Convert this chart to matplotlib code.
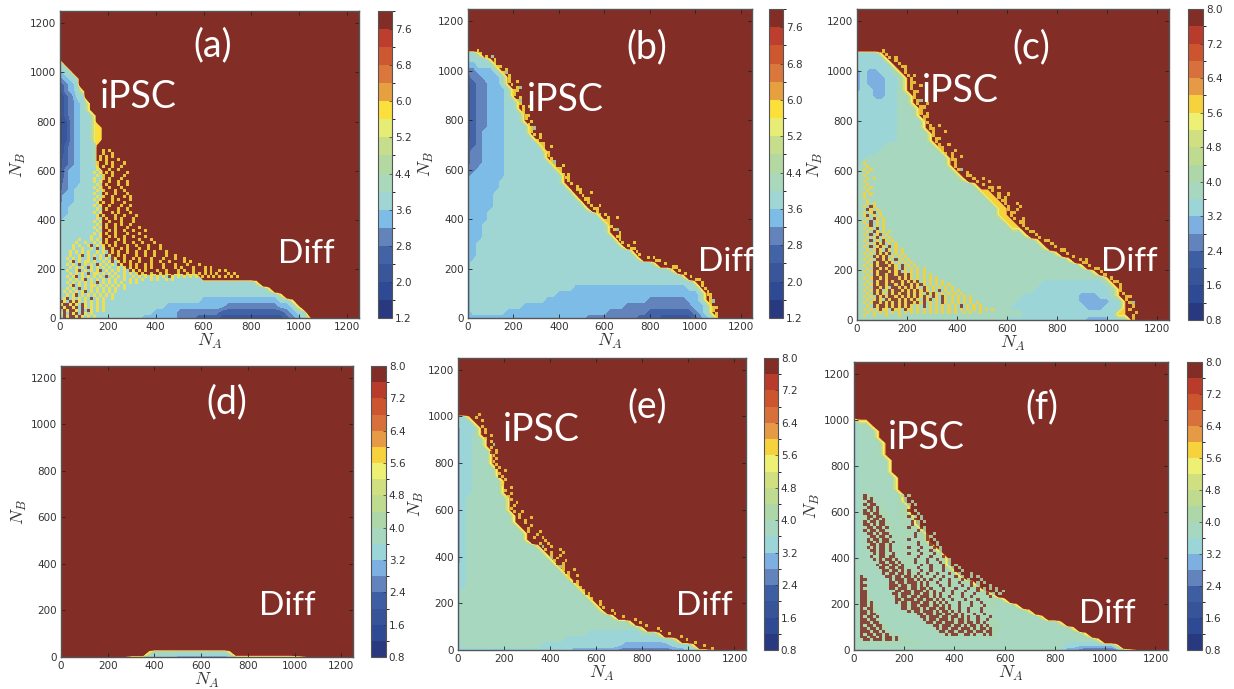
import numpy as np
import matplotlib
matplotlib.use('Agg')
import matplotlib.pyplot as plt
from matplotlib.colors import ListedColormap, BoundaryNorm
from matplotlib.cm import ScalarMappable

# one char per grid node, N_A = 0, 25, 50, ... left to right, last row is N_B = 0
# rows go up in steps of 25, anything not written is the dark red plateau
band_value = {'1': 1.4, '2': 1.8, '3': 2.2, '4': 2.6, '5': 3.0, '6': 3.4, '7': 3.8,
              '8': 4.2, '9': 4.6, 'a': 5.0, 'b': 5.4, 'c': 5.8, 'x': 16.0}

panel_a = [
    "8", "78", "678", "5678", "3567", "3567c", "24577", "24567c", "24567c", "245677c",
    "235677c", "235677cc", "235677cc", "235677cc", "2456778", "2456778", "3456778",
    "3456778", "35667778", "35667778",
    "45667778", "45677778", "56677778", "56677778", "66777778",
    "66777777", "67777777", "77777777", "77777777", "77777777",
    "77777777", "777777777", "7777777777", "77777777777", "7777777777777",
    "7" * 24,
    "7" * 33 + "c",
    "7" * 35 + "c",
    "7" * 37 + "c",
    "7" * 24 + "6" * 13 + "77c",
    "7" * 18 + "6" * 10 + "5" * 9 + "667c",
    "7" * 16 + "6666" + "5" * 7 + "4" * 11 + "5677",
    "7" * 14 + "666666" + "555" + "4444" + "3" * 11 + "4567c",
]

panel_b = [
    "77c", "7777c", "66777c", "556667c", "4556667c", "3455667c", "34556667c", "34556667c",
    "345566677c", "345566677c", "3455666777c", "3455666777c", "34556667777c", "34566667777c",
    "345666677777c", "4456666777777c", "45566667777777c", "45566667777777c",
    "455666677777777c", "5566666" + "7" * 9 + "c", "5666666" + "7" * 10 + "c",
    "666666" + "7" * 11 + "c", "666666" + "7" * 12 + "c", "66666" + "7" * 14 + "c",
    "66666" + "7" * 15 + "c", "66666" + "7" * 16 + "c", "6666" + "7" * 19 + "c",
    "6666" + "7" * 20 + "c", "666" + "7" * 22 + "c", "666" + "7" * 22 + "c",
    "666" + "7" * 23 + "c", "66" + "7" * 25 + "c", "66" + "7" * 27 + "c", "66" + "7" * 28 + "c",
    "6" + "7" * 32 + "c", "6" + "7" * 35 + "c", "6" + "7" * 37 + "c", "6" + "7" * 39 + "c",
    "6" + "7" * 18 + "6" * 20 + "77c",
    "6" + "7" * 15 + "6" * 25 + "7c",
    "6" + "7" * 13 + "6" * 18 + "5" * 7 + "667c",
    "6" + "7" * 9 + "6" * 18 + "5" * 12 + "667c",
    "6" + "7" * 6 + "6" * 18 + "5" * 7 + "4" * 8 + "567c",
    "6" * 21 + "5" * 9 + "4" * 4 + "3" * 6 + "4567c",
]

panel_c = [
    "6666c", "66666c", "666666c", "5655667c", "56555667c", "56555667c", "56655667c",
    "666556677c", "666666677c", "6666666777c", "6666666777c", "66666667777c", "66666667777c",
    "6666666" + "77777c", "6666666" + "77777c", "66666" + "7" * 8 + "c", "6666" + "7" * 10 + "c",
    "667" + "7" * 12 + "c", "67" + "7" * 13 + "c", "7" * 16 + "c", "7" * 17 + "c",
    "7" * 19 + "c",
    "7" * 20 + "cc",
    "7" * 21 + "cc",
    "7" * 22 + "cc",
    "7" * 23 + "cc",
    "7" * 23 + "cc",
    "7" * 24 + "cc",
    "7" * 25 + "cc",
    "7" * 27 + "c",
    "7" * 29 + "c",
    "7" * 30 + "c",
    "7" * 32 + "c",
    "7" * 34 + "c",
    "7" * 36 + "c",
    "7" * 38 + "c",
    "7" * 40 + "c",
    "7" * 30 + "6" * 10 + "7c",
    "7" * 29 + "6" * 12 + "7c",
    "7" * 27 + "6" * 9 + "555667c",
    "7" * 26 + "6" * 10 + "55555" + "66c",
    "7" * 25 + "6" * 12 + "555" + "666c",
    "7" * 27 + "6" * 15 + "cc",
    "7" * 24 + "6" * 13 + "5555" + "667c",
]

panel_d = [
    "x" * 15 + "c" + "7" * 13 + "c",
    "x" * 11 + "c777" + "66666" + "5" * 20 + "67c",
]

panel_e = [
    "66c", "666c", "5666c", "5667c", "56677c", "56677c", "566777c", "566777c", "566777c",
    "5667777c", "5667777c", "56677777c", "56677777c", "56677777c", "567777777c", "567777777c",
    "567777777c", "5677777777c", "5677777777c", "56777777777c", "567777777777c",
    "567777777777c",
    "56" + "7" * 12 + "c",
    "56" + "7" * 13 + "c",
    "56" + "7" * 14 + "c",
    "56" + "7" * 15 + "c",
    "66" + "7" * 16 + "c",
    "66" + "7" * 17 + "c",
    "66" + "7" * 18 + "c",
    "66" + "7" * 19 + "c",
    "67" + "7" * 20 + "c",
    "67" + "7" * 21 + "c",
    "67" + "7" * 22 + "c",
    "67" + "7" * 23 + "c",
    "6" + "7" * 26 + "c",
    "6" + "7" * 29 + "c",
    "6" + "7" * 31 + "c",
    "6" + "7" * 22 + "6" * 9 + "777c",
    "6" + "7" * 18 + "6" * 17 + "77c",
    "6" + "7" * 14 + "6" * 14 + "5" * 8 + "6666c",
    "6" * 20 + "5" * 8 + "4" * 10 + "55" + "66" + "77c",
]

panel_f = [
    "6cc", "677c", "6777c", "6777c", "67777c", "67777c", "67777c", "677777c", "677777c",
    "677777c", "6777777c", "6777777c", "6777777c", "67777777c", "67777777c", "677777777c",
    "677777777c", "6777777777c", "6777777777c", "67777777777c", "677777777777c",
    "677777777777c", "6777777777777c", "67777777777777c", "677777777777777c",
    "777777777777777c", "7777777777777777c", "77777777777777777c",
    "7" * 19 + "c", "7" * 20 + "c", "7" * 22 + "c", "7" * 24 + "c", "7" * 26 + "c",
    "7" * 28 + "c", "7" * 30 + "c", "7" * 33 + "c", "7" * 35 + "c", "7" * 37 + "c",
    "7" * 39 + "c",
    "7" * 34 + "6" * 8 + "c",
    "7" * 33 + "6" + "55" + "4" + "3" * 5 + "457c",
]

# speckle read from the noisy zones, one char per 12.5 x 12.5 cell, '.' leaves the
# contour underneath visible, last row is N_B = 0, first char is N_A = 0
speck_a = [
    "..............c.c.x", "..............cx.c", ".............c.cxc.x", ".............c.c.x.c",
    "............c..cxc.x.c", "............c.c.xcx.cx", "............c..xc.xc.x",
    "...........c.c.cxcx.x.c", "............c.cx.cx.xc", "...........c..cxcx.xc.x",
    "...........c.c.xcx.cx.c", "............c.xcxx.c.xc", "...........c.c.xcx.xc.x",
    "............c.cxx.cx.c.x", "...........c..xcxxc.x.cx", "............c.cxxcx.xc.c",
    "...........c.cx.xcxc.x.c", "............cxcxxc.x.c.x", "...........c.cxxcxx.cx.c",
    "............c.xcx.xcx.c.x", "...........c.cxx.cxc.x.cx", "............cxcx.xc.xc.x.c",
    "............c.xcxxc.cx.xc.x", "...........c.cxxcx.xc.x.c.x", "............c.xcx.cxc.xc.x",
    "...........c.cxcxxc.x.c.x.cx", "............c.xxcxc.xcx.c.x.c",
    "...........c.cxc.xcxx.cx.xc.x", "..........c..cxxcxc.xcx.c.x.c",
    "......c...c.c.xcx.xcxc.x.xc.x.c", ".....c..c..c.cxcxxc.xc.xcx.c.x.c",
    "....c.c..cx.c.cxcxcxx.cx.cx.xc.x.c", "....c..c..c.x.cxxcx.cxc.x.cx.c.x.c.x",
    "...c.c.c.c..c.c.xcxcxxc.xcx.c.xc.x.c.x", "...c..cx.c.c.c.xcx.cxcx.xcx.cx.c.x.cx.c",
    "..c.c.c..c.x.c.c.xcxxc.xcxc.x.cx.xc.x.cx.c", "...cx.c.cc.c..c.cx.cxcxc.xcxx.c.xcx.c.x.xc.c",
    "..c.c.x.c.c.xc.c.c.xc.xcxcx.cxc.x.cx.xc.x.c.x.c",
    "...c.c.c.xc.c.c.c..c.cxcxc.xcxcx.xc.x.cxc.x.c.x.c.c",
    "..c..cx.c.c.cx.c.c.c.c.xcxcxcxx.c.xcx.xc.cx.c.x.c.c.xc.c",
    "...c.c.c.x.cc.c.c.c..c.c.cxc.xc.xcxc.x.c.xc.c.c.cxc.c.x.c.cx",
    "..c.cx.c.c.c.c.x.c.c.c..c.c.c.c.c.c.xc.c.c.c.c.c.c.c.c.c.c.c",
    "...c.c.cx.c.c.c.c.c..c.c.c.c..c.c..c.c", "..c.c.c.c.c.x.c.c.c.c..c.c",
    "...cx.c.c.cc.c.c.c.c.c", "..c.c.x.c.c.c.c.c.c..c", ".c.c.c.cx.c.c.c.c.c",
    "..c.cx.c.c.c.c.c.c", ".cx.c.c.c.x.c.c..c", "xc.xcxc.c.c.c.c", "cxxcxc.xc.c.c.c",
    "xcxxcx.xc.c.c.c", ".xcxxc.x.xc.c.c", "cx.xcx.xc.c", ".xcxxcxc.c.c",
]

speck_c = [
    "..c", "...c", "..c.c", "...c", "..c", "...c.c", "..c", "...c", "..c.c", "...c", "..c.c",
    "..c", "...c", "...c.c", "..c.xc", "...xc.c", "..c.cx.c", "..cx.c.c", "...c.xc.c",
    "..c.x.c.c", "...cx.c.c", "..c.c.x.c", "...c.xc.c.c", "..c.x.cx.c", "...c.cx.c.c",
    "..c.x.c.xc.c", "...c.cxcx.c.c", "..c.x.cxc.x.c", "...c.cxc.xc.c.c", "..c.c.xcxcx.c.c",
    "...c.xcxcx.c.c.c", "..c.c.xxcxc.x.c.c", "...c.xcxxcxc.c.c.c", "..c.cxcxxxcxc.x.c.c",
    "...c.xxcxcxxc.xc.c.c.c", "..c.cxcxxxcxcx.c.c.c.c", "...c.xcxxcxxcxxcxc.c.c.c",
    "..c.cxxcxcxxxcxcxc.c.c.c.c", "...c.xcxxcxcxxcxcxcx.c.c.c.c",
    "..c.cxcxxcxxcxcxxcxcxc.c.c.c.c", "...c.xxcxc.xxcxcxcxc.xc.c.c.c.c",
    "..c.cxcx.cxcxxcxcxcxcxc.c.x.c.c.c", "...c.xcxc.xcxcxxcxcxc.xcxc.c.c.c.c",
    "..c.c.xcxcxxcxcxcxcxcxc.xc.xc.c.c.c.c", "...c.cxc.xcxxcxcxcxc.xcx.c.xc.c.c.c.c",
    "..c.cxxcxcxcxcxcxxcxcx.c.c.xc.c.c.c.c.c", "...c.xcxxcxcxcxcxc.c.x.c.c.c.c.c.x.c.c.c",
    "..c.c.cxcc.xcc.xcc.c.c.c.c.c.c.c.c.c.c.c.c.c", "...c.c.c.c.c.c.c.c.c.c.c.c.c.c.c..c.c..c",
    "..c..c...c...c", ".",
]

# in (f) the specks sit between red and the teal base, so 8 rather than yellow
speck_f = [
    "...x.8.........8.8", "...x8x........8.8", "...8xx8.......8.8.8", "...x8xx.8......8.8.8",
    "..8.xx8x8.....8.8.x", "...x8x8x.8.....8.x.8", "...xx8xx8.8...8.8.x.8",
    "...8xx8xx8.....8.x.8.8", "..8.x8xx8x8....8.8.x.8", "...x8xx8xx8.8...8.x.8.8",
    "...xx8x8xx8...8.8.x.8.x", "...8xx8xx8x.8..8.x.8.x8", "...x8xx8xx8.8...8.8.x.8.x",
    "....xx8x8xx8.8...8.x.8.x.8", "....8xx8xx8x.8.8.8.x.8.x8", "....x8xx8xx8...8.x.8.8.x.8",
    "....xx8x8xx8x.8...8.x.8.x.8", "....8xx8xx8x8.8.8.8.x.8.x.8", "....x8x8xx8x...8.x.8.x.8.x.8",
    ".....xx8xx8x.8..8.8.x.8.x8.8", ".....8x8xx8.x8.8.x.8.x.8.x.8", ".....x.8xx8xx8..8.8.x.8.x.8.x",
    "......x8x8xx8x.8.8.x.8.x.8x.8.8", "......8.xx8xx8x8.8.x.8.x.8.x8.8",
    ".......x8xx8xx8x.8.8.x.8x.8.x.8.8", "........xx8xx8xx8.8.x.8.x.8.x8.8.8",
    "........8xx8xx8x8x.8.x.8x.8.x.8.x.8", ".........x8xx8xx8x8.x8.x.8x.8.x8.8.x.8",
    "..x.......xx8xx8xx8x8x.8.x8.x.8.x.8.x8.8", "..xx.......x8xxx8xx8x8x.x8.x.8x.8.x.8.x.8",
    "..x8.......xx8xx8xxx8x8x8.x.8.x8.x.8.x.8.8", "..xx......8xxx8xx8xx8x8x.8.x.8x.8.x8.x.8.x.8",
    "..x8.......xx8xxx8xx8xx8x.8.x.8.x.8.x.8x.8.8.8", "..xx8.......8xx8xx8xxx8x8x8.x.8x.8.x.8.x.8.x.8.8",
    "..xx........xx8xxx8xx8xx8x8x.8.x8.x.8.x.8.x.8.8", "..xx8.......8x8xx8xx8xxx8x8x8.x.8.x8.x.8.8.x",
    "..xx8........xx8xxx8xx8xx8x8x.8x.8.x.8.x.8.8.8", "..xx8x.......x8xx8xxx8xx8x8x8x.8.x.8.x8.x.8.8",
    "..xx8x8.......8xx8xx8xxx8xx8x8x8.x.8.x.8.x.8.8", "..x8xx8........xx8xxx8x8xx8xx8x8.x.8x.8.x.8.8",
    "..xx8x8..........x8xx8xxx8x8xx8x8x8.x.8.x.8", "..xx8xx8...........8xx8xx8xx8xx8x8x.8.x8.x.8",
    "..x8xx8x.............xx8xxx8xx8xx8x8x8.x.8.x", "..xx8xx8.............8x8xx8xxx8x8xx8x8.x8.x.8",
    "..xxx8xx8..............xx8xx8xxx8xx8xx8x8x.8.8", "..x8xx8xx8..............8xx8xxx8xx8x8xx8x8x8.8",
    "..xx8xx8x8................x8xx8xx8xxx8x8xx8x8.8", "..xxx8xx8x.8..............8xx8xx8xx8xx8xx8xx8",
    "..x8xx8xx8x8...............8.x8xx8.xx8x8.x8x8", "..xx8xx8x8xx8x8.8.............8..8.8..8.8.8.8",
    "..8xx8xxx8xx8x8.8", "..8.8.8.8.8.8.8.8.8", ".", ".",
]

# rough rim along the upper boundary: start cell and pattern, one entry per 12.5 of N_B,
# first entry is the top, last is N_B = 0
edge_b_col = [3, 4, 6, 8, 9, 10, 12, 12, 13, 14,
              14, 15, 16, 16, 16, 17, 17, 18, 18, 19,
              19, 20, 20, 21, 21, 22, 22, 23, 24, 24,
              25, 26, 26, 27, 28, 28, 29, 30, 31, 32,
              33, 34, 35, 36, 37, 38, 39, 40, 41, 42,
              43, 44, 45, 46, 48, 48, 49, 50, 51, 52,
              52, 53, 54, 56, 57, 59, 60, 63, 66, 69,
              72, 74, 76, 78, 80, 81, 82, 83, 84, 84,
              85, 85, 85, 86, 86, 87, 87]
edge_b_pat = ("c.x c. c.8 .c c.x cc. .cx c8 .c.x c. "
              "cx.c c. .c8 cc c.x .c c8. cx .c.c c. "
              "c.x cc cx. .c c.x c8 cx c.c .cx c. "
              "cc. cx.c c.x cc cx .c.x c8 cx.c cc. cx "
              "c.cx cc. cx c.x .cx cc. c.x.c cx cc. c.x "
              "cx.c cc c.x c.c .cx.c cc cx. c.x c8 .cx "
              "cc cx. c.x.c cx cc c.x cx. c.c cc. c.x "
              "cc cx c. c.x cc .c cx c. c.x cc "
              "c. c8 c. cc c. c. c").split()

edge_c_col = [8, 9, 10, 12, 13, 14, 15, 15, 16, 16,
              17, 17, 17, 18, 18, 18, 19, 19, 20, 20,
              20, 21, 21, 22, 22, 23, 24, 24, 25, 25,
              26, 26, 27, 28, 29, 30, 31, 31, 32, 34,
              35, 37, 38, 40, 42, 43, 45, 45, 46, 47,
              48, 48, 49, 49, 50, 52, 53, 54, 55, 57,
              58, 60, 62, 63, 65, 67, 69, 71, 72, 74,
              76, 78, 79, 81, 82, 83, 84, 84, 85, 86,
              86, 87, 87, 87, 88, 88, 88]
edge_c_pat = ("c.x cx. c.c cx c.x cc. c.x cx c.c .cx "
              "cc. cx.c c.x cc cx c.x c8 cx.c cc. cx "
              "c.cx cc. cx c.x .cx.c cc. c.x.c cx cc. c.x "
              "cx.c cc c.x.c c.c .cx.c cc cx. c.x c8 .cx "
              "cc.x cx.c c.x.c cx cc.c c.x cx.c c.c.x cc.x c.x.c "
              "c.x.c cx.c cc.x c.x.x cx.c cc. c.x cx. cc c.x "
              "cx cc. c.x cx cc c.x cx c.c cc. c.x "
              "cc cx c. c.x cc .c cx c. c.x cc "
              "c. c8 xc cx xc cx c").split()

edge_e_col = [5, 6, 7, 7, 8, 8, 8, 9, 9, 10,
              10, 11, 11, 11, 12, 12, 12, 13, 13, 14,
              14, 14, 15, 15, 15, 16, 16, 17, 17, 18,
              18, 18, 18, 19, 20, 21, 22, 23, 23, 24,
              24, 25, 26, 27, 28, 29, 30, 31, 32, 32,
              33, 34, 35, 36, 37, 38, 38, 40, 41, 42,
              43, 44, 45, 46, 48, 49, 50, 52, 54, 57,
              60, 63, 65, 68, 70, 73, 76, 79, 82, 85, 88]
edge_e_pat = ("x.c cx xc. .x c.x xc .cx x.c cx xc. "
              "x.8 cx. .xc x.c cxx xc. c.x cx. xc x.c "
              "cx.x xc. .cx c.x cxx x.c cx.x xc. c.x cx "
              "x.c xc.x c.xx cx.c xc.x c.x.c xc.x c.xx x.cx c.x "
              "cx.xc x.c.x c.xc.x x.xc.x c.xc.x 8.xc.x c.x.xc xc.x.c c.xc.x 8.c.xx "
              "c.x.c x.c.x 8c.xx c.x.c xc.x c.xc c.x xc.x c.x cx. "
              "c.x xc cx. c.x xc. c.x cx xc. c.x cx "
              "xc c.x cx xc. cx c.x xc cx c. cx c").split()


def edge_rows(cols, pats):
    return ['.' * c + p for c, p in zip(cols, pats)]


panels = [panel_a, panel_b, panel_c, panel_d, panel_e, panel_f]
specks = [[speck_a], [edge_rows(edge_b_col, edge_b_pat)],
          [speck_c, edge_rows(edge_c_col, edge_c_pat)], [],
          [edge_rows(edge_e_col, edge_e_pat)], [speck_f]]
names = ['(a)', '(b)', '(c)', '(d)', '(e)', '(f)']

colors_17 = ['#28397f', '#2f4a94', '#385699', '#4363a7', '#6383bd', '#7dbce6', '#9fd5d2',
             '#a9d8bb', '#b3d8a2', '#c6dd8b', '#e6ec74', '#fbe03c', '#e6a040', '#d9773c',
             '#cd5830', '#bd3e2c', '#822e26']
colors_18 = ['#28397f', '#2f4a94', '#375498', '#3e5ea4', '#6383bd', '#7db0e0', '#9bd5d8',
             '#a7d7bf', '#add7a8', '#bedb90', '#d0e080', '#eef074', '#f6d23c', '#e69a45',
             '#d8703c', '#cc5530', '#b93b2b', '#822e26']

axis_ticks = [0, 200, 400, 600, 800, 1000, 1200]
cbar_ticks_17 = [1.2, 2.0, 2.8, 3.6, 4.4, 5.2, 6.0, 6.8, 7.6]
cbar_ticks_18 = [0.8, 1.6, 2.4, 3.2, 4.0, 4.8, 5.6, 6.4, 7.2, 8.0]

# pixel boxes: left, right, top, bottom
W, H = 1234, 689
ax_boxes = [(60, 359, 11, 318), (468, 752, 9, 318), (857, 1169, 9, 320),
            (61, 353, 366, 657), (458, 746, 358, 650), (854, 1168, 362, 650)]
cb_boxes = [(378, 392), (769, 783), (1188, 1203), (371, 386), (764, 778), (1187, 1202)]

# label centres in data units
name_pos = [(640, 1110), (787, 1097), (697, 1096), (710, 1094), (822, 1043), (748, 1055)]
ipsc_pos = [(327, 900), (430, 880), (414, 920), None, (362, 943), (288, 918)]
diff_pos = [(1030, 262), (1135, 225), (1091, 234), (967, 220), (1070, 189), (1010, 156)]

plt.rcParams['font.family'] = 'DejaVu Sans'
plt.rcParams['mathtext.fontset'] = 'cm'
text_font = 'Lato'
grey = '#333333'

n_axis = np.arange(0, 1251, 25)


def make_grid(rows):
    z = np.full((n_axis.size, n_axis.size), band_value['x'])
    for i, row in enumerate(rows):
        z[len(rows) - 1 - i, :len(row)] = [band_value[c] for c in row]
    return z


def make_speck(rows):
    ncol = max(len(r) for r in rows)
    z = np.full((len(rows), ncol), np.nan)
    for i, row in enumerate(rows):
        for j, c in enumerate(row):
            if c != '.':
                z[len(rows) - 1 - i, j] = min(band_value[c], 7.8)
    return np.ma.masked_invalid(z)


def box_rect(l, r, t, b):
    return [l / W, 1 - b / H, (r - l) / W, (b - t) / H]


fig = plt.figure(figsize=(W / 100, H / 100), dpi=100, facecolor='white')

for i in range(6):
    if i < 2:
        colors, start, cticks = colors_17, 1.2, cbar_ticks_17
    else:
        colors, start, cticks = colors_18, 0.8, cbar_ticks_18
    levels = list(np.round(np.arange(start, 8.01, 0.4), 1))
    cmap = ListedColormap(colors)
    norm = BoundaryNorm(levels, len(colors))

    ax = fig.add_axes(box_rect(*ax_boxes[i]))
    ax.contourf(n_axis, n_axis, make_grid(panels[i]), levels=levels + [100],
                colors=colors + [colors[-1]], antialiased=False)
    for rows in specks[i]:
        z = make_speck(rows)
        xe = np.arange(z.shape[1] + 1) * 12.5
        ye = np.arange(z.shape[0] + 1) * 12.5
        ax.pcolormesh(xe, ye, z, cmap=cmap, norm=norm, antialiased=False, alpha=0.85)
    ax.set_xlim(0, 1250)
    ax.set_ylim(0, 1250)
    ax.set_xticks(axis_ticks)
    ax.set_yticks(axis_ticks)
    ax.tick_params(direction='in', top=True, right=True, labelsize=7.5, length=3, width=0.6,
                   colors=grey, pad=3, color='#222222')
    for s in ax.spines.values():
        s.set_color('#555555')
        s.set_linewidth(1.0)
    ax.set_xlabel('$N_A$', fontsize=13, color=grey, labelpad=0)
    ax.set_ylabel('$N_B$', fontsize=13, color=grey, labelpad=1)

    x, y = name_pos[i]
    ax.text(x, y, names[i], color='white', fontsize=27, family=text_font, ha='center', va='center')
    if ipsc_pos[i] is not None:
        x, y = ipsc_pos[i]
        ax.text(x, y, 'iPSC', color='white', fontsize=27, family=text_font, ha='center', va='center')
    x, y = diff_pos[i]
    ax.text(x, y, 'Diff', color='white', fontsize=24, family=text_font, ha='center', va='center')

    t, b = ax_boxes[i][2], ax_boxes[i][3]
    cax = fig.add_axes(box_rect(cb_boxes[i][0], cb_boxes[i][1], t, b))
    cb = fig.colorbar(ScalarMappable(norm=norm, cmap=cmap), cax=cax, ticks=cticks,
                      format='%.1f', spacing='proportional', drawedges=False)
    cb.ax.tick_params(direction='in', labelsize=7.5, length=2, width=0.5, colors=grey, pad=2)
    cb.outline.set_edgecolor('#555555')
    cb.outline.set_linewidth(0.8)

fig.savefig('out.png', dpi=100)
